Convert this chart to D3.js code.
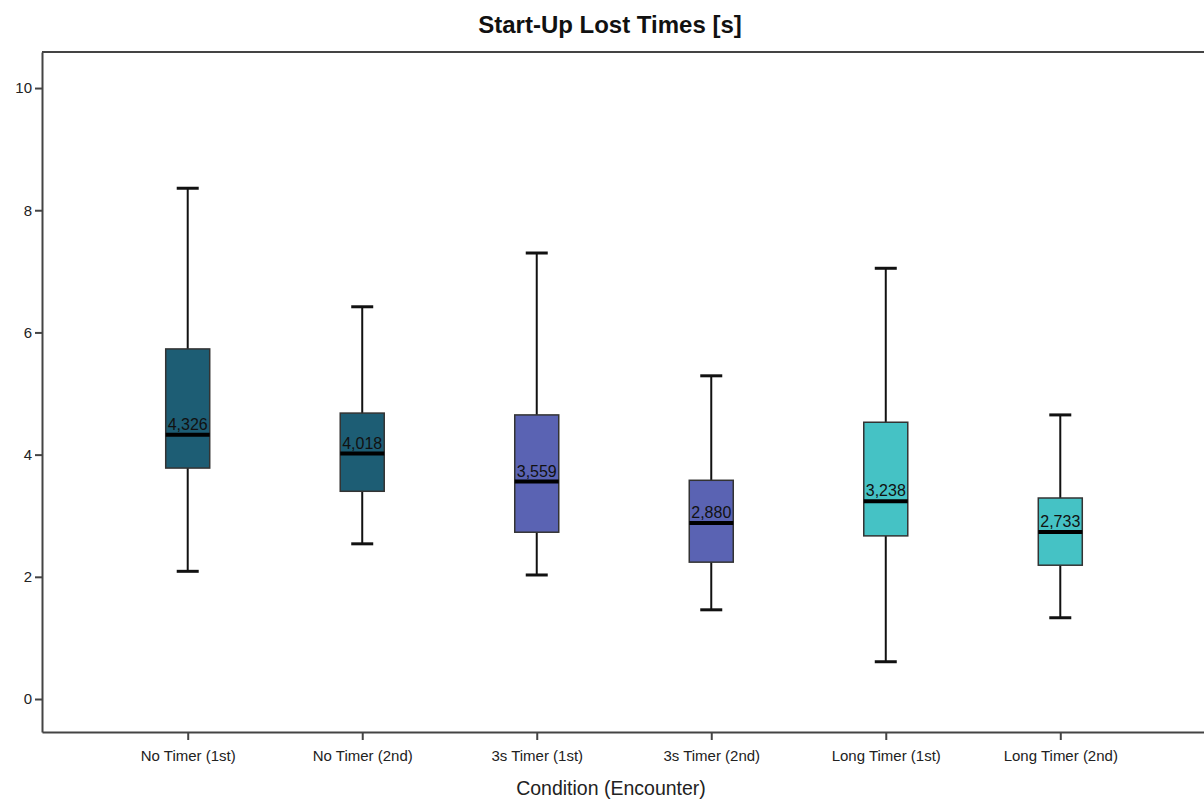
<!DOCTYPE html>
<html>
<head>
<meta charset="utf-8">
<script src="https://cdn.jsdelivr.net/npm/d3@7"></script>
<style>
  body { margin: 0; background: #fff; }
  text { font-family: Arial, "Liberation Sans", sans-serif; }
</style>
</head>
<body>
<div id="chart"></div>
<script>
const categories = ["No Timer (1st)", "No Timer (2nd)", "3s Timer (1st)", "3s Timer (2nd)", "Long Timer (1st)", "Long Timer (2nd)"];
const whiskerLow  = [2.09, 2.54, 2.03, 1.46, 0.61, 1.33];
const q1          = [3.78, 3.40, 2.73, 2.24, 2.67, 2.19];
const medians     = [4.326, 4.018, 3.559, 2.880, 3.238, 2.733];
const q3          = [5.73, 4.68, 4.65, 3.58, 4.53, 3.29];
const whiskerHigh = [8.36, 6.42, 7.30, 5.29, 7.05, 4.65];
const medianLabels = ["4,326", "4,018", "3,559", "2,880", "3,238", "2,733"];
const boxColors = ["#1d5d74", "#1d5d74", "#5a63b3", "#5a63b3", "#45c2c5", "#45c2c5"];
const yTicks = [0, 2, 4, 6, 8, 10];

const W = 1204, H = 801;
const margin = {top: 52, right: -2, bottom: 69, left: 42};
const width = W - margin.left - margin.right;
const height = H - margin.top - margin.bottom;

const data = categories.map((c, i) => ({
  cat: c, lo: whiskerLow[i], q1: q1[i], med: medians[i], q3: q3[i], hi: whiskerHigh[i],
  label: medianLabels[i], color: boxColors[i]
}));

const svg = d3.select("#chart").append("svg")
  .attr("width", W).attr("height", H);

const g = svg.append("g")
  .attr("transform", `translate(${margin.left}, ${margin.top})`);

const x = d3.scalePoint()
  .domain(categories)
  .range([0, width])
  .padding(0.835);

const y = d3.scaleLinear()
  .domain([-0.54, 10.59])
  .range([height, 0]);

// top border of the frame
g.append("line").attr("x1", 0).attr("x2", width).attr("y1", 0).attr("y2", 0)
  .attr("stroke", "#444").attr("stroke-width", 2);

const yAxis = g.append("g")
  .call(d3.axisLeft(y).tickValues(yTicks).tickSize(7).tickSizeOuter(0).tickPadding(3));
const xAxis = g.append("g")
  .attr("transform", `translate(0, ${height})`)
  .call(d3.axisBottom(x).tickSize(8).tickSizeOuter(0).tickPadding(10));

[yAxis, xAxis].forEach(a => {
  a.select(".domain").attr("stroke", "#444").attr("stroke-width", 2);
  a.selectAll(".tick line").attr("stroke", "#444").attr("stroke-width", 2);
  a.selectAll(".tick text").attr("fill", "#222").style("font-size", "15px");
});

const boxW = 44, capW = 22;
const boxes = g.append("g").selectAll("g.box")
  .data(data)
  .join("g")
  .attr("class", "box")
  .attr("transform", d => `translate(${x(d.cat)}, 0)`);

boxes.append("line")
  .attr("y1", d => y(d.hi)).attr("y2", d => y(d.q3))
  .attr("stroke", "#111").attr("stroke-width", 2);
boxes.append("line")
  .attr("y1", d => y(d.q1)).attr("y2", d => y(d.lo))
  .attr("stroke", "#111").attr("stroke-width", 2);
boxes.append("line")
  .attr("x1", -capW / 2).attr("x2", capW / 2)
  .attr("y1", d => y(d.hi)).attr("y2", d => y(d.hi))
  .attr("stroke", "#111").attr("stroke-width", 3);
boxes.append("line")
  .attr("x1", -capW / 2).attr("x2", capW / 2)
  .attr("y1", d => y(d.lo)).attr("y2", d => y(d.lo))
  .attr("stroke", "#111").attr("stroke-width", 3);

boxes.append("rect")
  .attr("x", -boxW / 2).attr("width", boxW)
  .attr("y", d => y(d.q3)).attr("height", d => y(d.q1) - y(d.q3))
  .attr("fill", d => d.color)
  .attr("stroke", "#333").attr("stroke-width", 1.5);

boxes.append("line")
  .attr("x1", -boxW / 2).attr("x2", boxW / 2)
  .attr("y1", d => y(d.med)).attr("y2", d => y(d.med))
  .attr("stroke", "#000").attr("stroke-width", 4);

boxes.append("text")
  .attr("text-anchor", "middle")
  .attr("y", d => y(d.med) - 5)
  .style("font-size", "16px")
  .attr("fill", "#111")
  .text(d => d.label);

svg.append("text")
  .attr("x", 610).attr("y", 33)
  .attr("text-anchor", "middle")
  .style("font-size", "24px").style("font-weight", "bold")
  .attr("fill", "#111")
  .text("Start-Up Lost Times [s]");

svg.append("text")
  .attr("x", 611).attr("y", 795)
  .attr("text-anchor", "middle")
  .style("font-size", "19.5px")
  .attr("fill", "#222")
  .text("Condition (Encounter)");
</script>
</body>
</html>
